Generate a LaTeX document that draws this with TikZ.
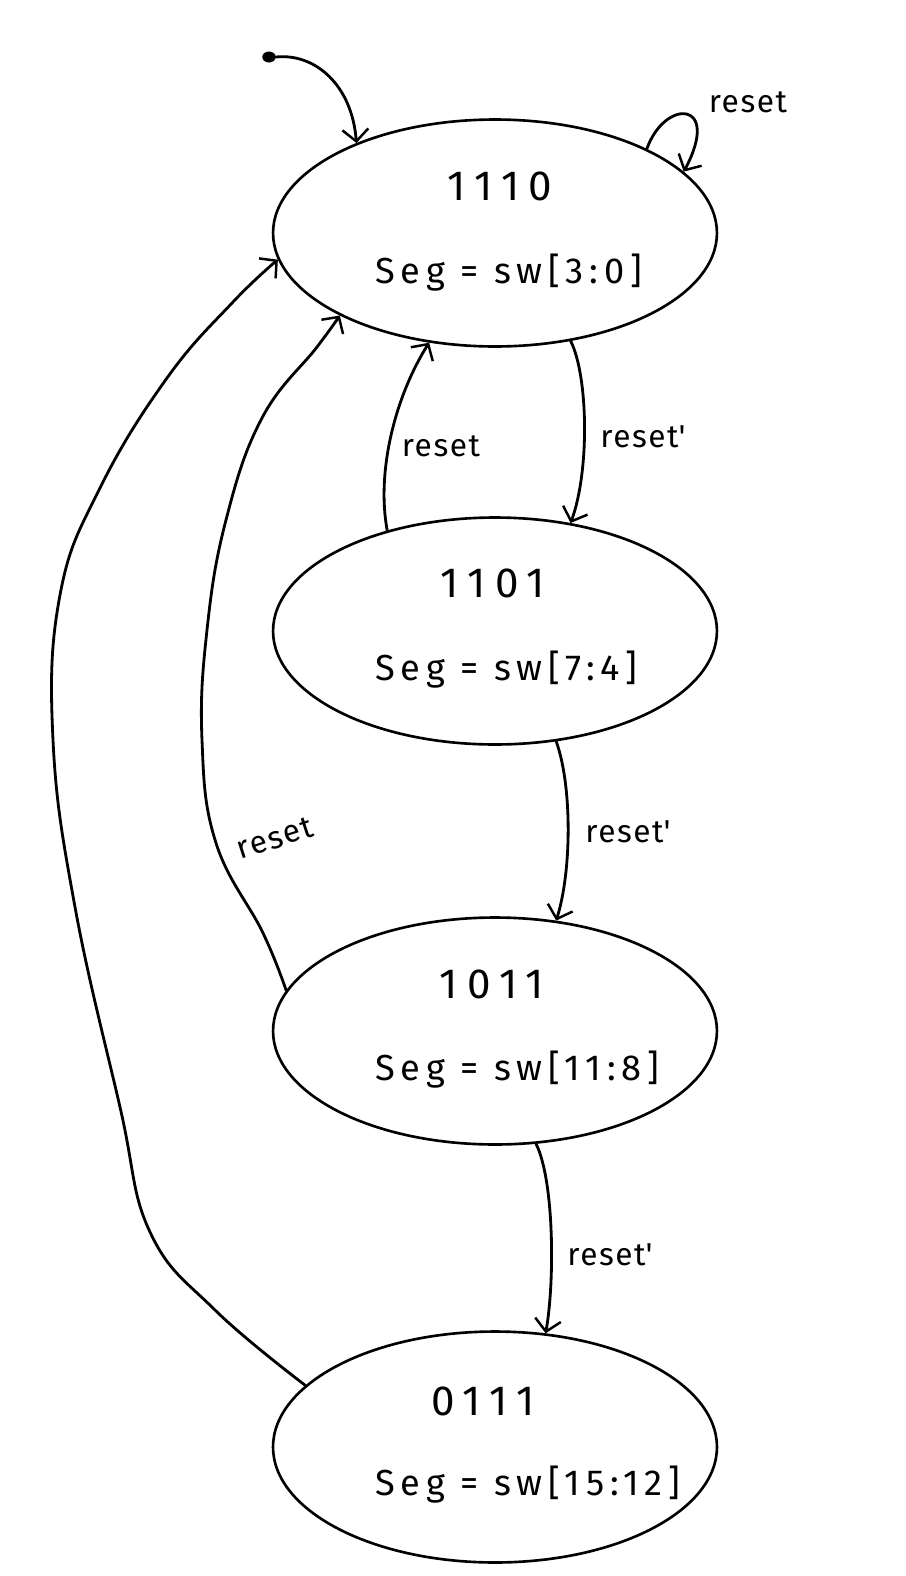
\documentclass[tikz,border=0pt]{standalone}
\usepackage{fontspec}
\setmainfont{Fira Sans}
\newfontfamily\segfont{Fira Sans}[LetterSpace=16]
\newfontfamily\digfont{Fira Sans}[LetterSpace=22]
\newfontfamily\lblfont{Fira Sans}[LetterSpace=5]
\usetikzlibrary{shapes.geometric,arrows.meta}
\begin{document}
\begin{tikzpicture}[x=0.02cm,y=-0.02cm,
  state/.style={ellipse, draw, line width=1.5pt, minimum width=8.88cm, minimum height=4.54cm, inner sep=0pt},
  edge/.style={line width=1.6pt, line cap=round, line join=round, -{Straight Barb[length=2.4mm,width=5.2mm,line width=1.4pt]}},
  seg/.style={anchor=base west, inner sep=0pt, font=\segfont\fontsize{20.6}{24}\selectfont},
  dig/.style={anchor=base, inner sep=0pt, font=\digfont\fontsize{24}{28}\selectfont},
  lbl/.style={inner sep=0pt, font=\lblfont\fontsize{18}{22}\selectfont}]
\useasboundingbox (0,0) rectangle (906,1576);

% states
\node[state] (s1) at (495,233) {};
\node[state] (s2) at (495,631) {};
\node[state] (s3) at (495,1031) {};
\node[state, minimum height=4.62cm] (s4) at (495,1447) {};

\node[dig] (d1) at (500,200) {1110};
\node[seg] (g1) at (375,283) {Seg = sw[3:0]};
\node[dig] (d2) at (493,597) {1101};
\node[seg] (g2) at (375,680) {Seg = sw[7:4]};
\node[dig] (d3) at (492,998) {1011};
\node[seg] (g3) at (375,1080) {Seg = sw[11:8]};
\node[dig] (d4) at (483,1415) {0111};
\node[seg] (g4) at (375,1495) {Seg = sw[15:12]};

% initial
\node[ellipse, fill, inner sep=0pt, minimum width=0.27cm, minimum height=0.22cm] (init) at (269,57) {};
\draw[edge] (init.east) .. controls (315,53) and (352,85) .. (s1.147.5);

% self loop
\draw[edge] (s1.29) .. controls (665,98) and (722,100) .. (s1.18);
\node[lbl] (l6) at (748,102) {reset};

% E1 -> E2
\draw[edge] (s1.-55) .. controls (588,375) and (590,470) .. (s2.55);
\node[lbl] (l1) at (643,437) {reset\textquotesingle};

% E2 -> E1
\draw[edge] (s2.137.6) .. controls (376,470) and (396,395) .. (s1.-121);
\node[lbl] (l2) at (441,446) {reset};

% E2 -> E3
\draw[edge] (s2.-61.2) .. controls (572,785) and (572,870) .. (s3.61.2);
\node[lbl] (l3) at (628,832) {reset\textquotesingle};

% E3 -> E4
\draw[edge] (s3.-70) .. controls (554,1180) and (555,1280) .. (s4.66);
\node[lbl] (l4) at (610,1255) {reset\textquotesingle};

% E3 -> E1 (middle)
\draw[edge] plot[smooth, tension=0.7] coordinates {(s3.169.6) (263,933) (216,843) (202,740) (207,630) (226,520) (262,418) (317,347) (s1.208.9)};
\node[lbl, rotate=18] (l5) at (275,838) {reset};

% E4 -> E1 (outer)
\draw[edge] plot[smooth, tension=0.7] coordinates {(s4.162) (215,1310) (150,1232) (120,1107) (75,907) (53,740) (60,595) (100,488) (167,378) (233,302) (s1.187.7)};
\end{tikzpicture}
\end{document}
